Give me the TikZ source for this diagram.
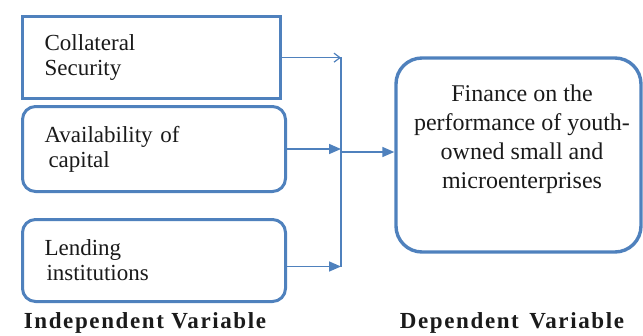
\documentclass[tikz,border=0pt]{standalone}
\usepackage{fontspec}
\newfontfamily\bodyfont{Liberation Serif}
\newfontfamily\headfont[LetterSpace=7]{Liberation Serif}
\usetikzlibrary{arrows.meta}
\definecolor{frame}{HTML}{4F81BD}
\definecolor{ink}{HTML}{1A1A1A}
\tikzset{
  varBox/.style={draw=frame, line width=3.3pt, fill=white, minimum height=82pt,
    text width=214pt, inner xsep=22pt, align=left, text=ink,
    font=\bodyfont\fontsize{23}{25}\selectfont},
  roundBox/.style={varBox, rounded corners=13pt, line width=3pt, text width=219pt},
  depBox/.style={draw=frame, line width=3.4pt, rounded corners=26pt,
    minimum width=245pt, minimum height=194pt},
  depText/.style={align=center, text=ink, font=\bodyfont\fontsize{24}{29}\selectfont},
  link/.style={draw=frame, line width=1.6pt},
  linkArrow/.style={link, -{Triangle[length=12pt,width=10pt]}},
  thinArrow/.style={link, line width=1.2pt, -{Straight Barb[length=6pt,width=9pt]}},
  headLabel/.style={text=ink, font=\headfont\bfseries\fontsize{23}{26}\selectfont}
}

\begin{document}
\begin{tikzpicture}[x=1pt, y=-1pt]
  \useasboundingbox (0,0) rectangle (643,335);

  \node[varBox, anchor=north west] (collateral) at (21,15) {Collateral\\Security};
  \node[roundBox, anchor=north west, minimum height=85pt] (capital) at (21,105)
    {Availability of\\\hspace*{4pt}capital};
  \node[roundBox, anchor=north west] (lending) at (21,218)
    {Lending\\\hspace*{2pt}institutions};

  \node[depBox] (dep) at (518.5,155) {};
  \node[depText] (depText) at (522,139)
    {Finance on the\\performance of youth-\\owned small and\\microenterprises};

  \coordinate (busTop) at (341,57);
  \coordinate (busMid) at (341,152);
  \coordinate (busBot) at (341,267);

  \draw[link] (busTop) -- (busBot);
  \draw[thinArrow] (collateral.east) -- (collateral.east -| busTop);
  \draw[linkArrow] (capital.east) -- (capital.east -| busTop);
  \draw[linkArrow] ([yshift=-6pt]lending.east) -- ([yshift=-6pt]lending.east -| busTop);
  \draw[linkArrow] (busMid) -- (busMid -| dep.west);

  \node[headLabel] (indepLabel) at (145,323) {Independent Variable};
  \node[headLabel] (depLabel) at (512,323) {Dependent\hspace{3pt} Variable};
\end{tikzpicture}
\end{document}
